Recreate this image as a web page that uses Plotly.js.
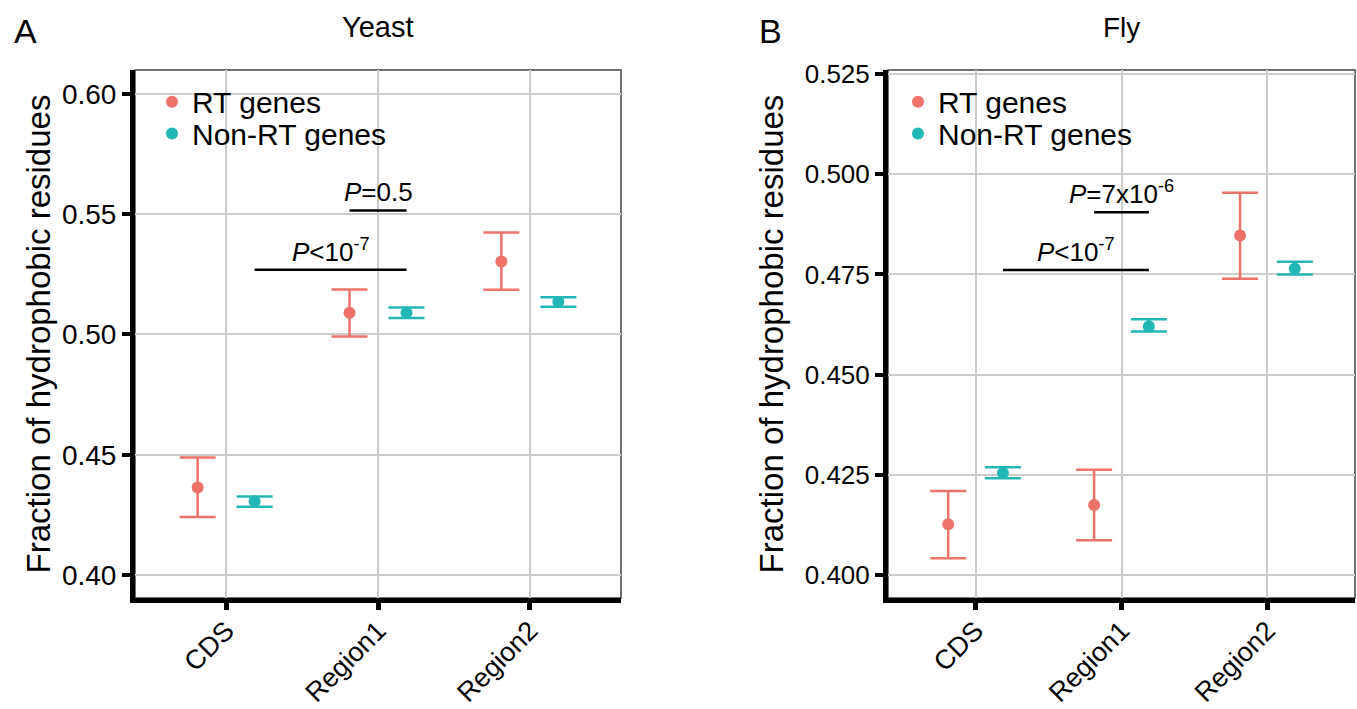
<!DOCTYPE html>
<html>
<head>
<meta charset="utf-8">
<script src="https://cdn.plot.ly/plotly-3.0.1.min.js"></script>
<style>html,body{margin:0;padding:0;background:#fff;}#chart{width:1357px;height:709px;}</style>
</head>
<body>
<div id="chart"></div>
<script>
// ---- data ----
const categories = ['CDS', 'Region1', 'Region2'];
const seriesNames = ['RT genes', 'Non-RT genes'];

const yeastRT      = [0.4364, 0.5090, 0.5304];
const yeastRTUp    = [0.4488, 0.5187, 0.5424];
const yeastRTLo    = [0.4241, 0.4992, 0.5186];
const yeastNon     = [0.4306, 0.5090, 0.5136];
const yeastNonUp   = [0.4326, 0.5112, 0.5155];
const yeastNonLo   = [0.4284, 0.5069, 0.5115];

const flyRT        = [0.4127, 0.4175, 0.4847];
const flyRTUp      = [0.4210, 0.4263, 0.4954];
const flyRTLo      = [0.4042, 0.4087, 0.4739];
const flyNon       = [0.4255, 0.4621, 0.4764];
const flyNonUp     = [0.4269, 0.4638, 0.4782];
const flyNonLo     = [0.4242, 0.4608, 0.4750];

const yeastTicks = [0.40, 0.45, 0.50, 0.55, 0.60];
const flyTicks   = [0.400, 0.425, 0.450, 0.475, 0.500, 0.525];

// significance brackets
const yeastSig = [
  {c0: 0, g0: 1, c1: 1, g1: 1, y: 0.5269, label: '<i>P</i>&lt;10<sup>-7</sup>'},
  {c0: 1, g0: 0, c1: 1, g1: 1, y: 0.5516, label: '<i>P</i>=0.5'}
];
const flySig = [
  {c0: 0, g0: 1, c1: 1, g1: 1, y: 0.4761, label: '<i>P</i>&lt;10<sup>-7</sup>'},
  {c0: 1, g0: 0, c1: 1, g1: 1, y: 0.4905, label: '<i>P</i>=7x10<sup>-6</sup>'}
];

// ---- styling ----
const COL_RT = '#EF736B';
const COL_NON = '#22B7B7';
const FONT = 'Liberation Sans, Arial, sans-serif';
const DODGE = 0.1875;
const groupOffset = g => (g === 0 ? -DODGE : DODGE);
const pos = (c, g) => c + 1 + groupOffset(g);

function makeTrace(vals, up, lo, g, xa, ya, legendName) {
  return {
    type: 'scatter', mode: 'markers',
    x: categories.map((_, i) => pos(i, g)),
    y: vals,
    name: seriesNames[g],
    xaxis: xa, yaxis: ya,
    legend: legendName,
    showlegend: true,
    marker: {color: g === 0 ? COL_RT : COL_NON, size: 12},
    error_y: {
      type: 'data', symmetric: false,
      array: vals.map((v, i) => up[i] - v),
      arrayminus: vals.map((v, i) => v - lo[i]),
      color: g === 0 ? COL_RT : COL_NON,
      thickness: 2.5, width: 18
    },
    hoverinfo: 'x+y'
  };
}

const traces = [
  makeTrace(yeastRT, yeastRTUp, yeastRTLo, 0, 'x', 'y', 'legend'),
  makeTrace(yeastNon, yeastNonUp, yeastNonLo, 1, 'x', 'y', 'legend3'),
  makeTrace(flyRT, flyRTUp, flyRTLo, 0, 'x2', 'y2', 'legend2'),
  makeTrace(flyNon, flyNonUp, flyNonLo, 1, 'x2', 'y2', 'legend4')
];

const shapes = [];
const annotations = [];
function addSig(list, xr, yr) {
  list.forEach(s => {
    shapes.push({type: 'line', xref: xr, yref: yr,
      x0: pos(s.c0, s.g0), x1: pos(s.c1, s.g1), y0: s.y, y1: s.y,
      line: {color: '#000', width: 2.5}});
    annotations.push({xref: xr, yref: yr,
      x: (pos(s.c0, s.g0) + pos(s.c1, s.g1)) / 2, y: s.y,
      xanchor: 'center', yanchor: 'bottom', yshift: 1,
      text: s.label, showarrow: false,
      font: {family: FONT, size: 26, color: '#000'}});
  });
}
addSig(yeastSig, 'x', 'y');
addSig(flySig, 'x2', 'y2');

// panel borders (thin)
['x', 'x2'].forEach((xa, k) => {
  shapes.push({type: 'rect', xref: xa + ' domain', yref: (k === 0 ? 'y' : 'y2') + ' domain',
    x0: 0, x1: 1, y0: 0, y1: 1, line: {color: '#444', width: 1.5}, layer: 'below'});
});

annotations.push(
  {xref: 'paper', yref: 'paper', x: 12 / 1357, y: 1 - 10 / 709, xanchor: 'left', yanchor: 'top',
   text: 'A', showarrow: false, font: {family: FONT, size: 34, color: '#000'}},
  {xref: 'paper', yref: 'paper', x: 757 / 1357, y: 1 - 10 / 709, xanchor: 'left', yanchor: 'top',
   text: 'B', showarrow: false, font: {family: FONT, size: 34, color: '#000'}},
  {xref: 'x domain', yref: 'paper', x: 0.5, y: 1 - 27 / 709, xanchor: 'center', yanchor: 'middle',
   text: 'Yeast', showarrow: false, font: {family: FONT, size: 29, color: '#000'}},
  {xref: 'x2 domain', yref: 'paper', x: 0.5, y: 1 - 27 / 709, xanchor: 'center', yanchor: 'middle',
   text: 'Fly', showarrow: false, font: {family: FONT, size: 28, color: '#000'}}
);

function xAxis(domain, anchor) {
  return {
    domain: domain, anchor: anchor,
    range: [0.4, 3.6], tickvals: [1, 2, 3], ticktext: categories,
    tickangle: -45, tickfont: {family: FONT, size: 27, color: '#000'},
    ticks: 'outside', ticklen: 7, tickwidth: 5, tickcolor: '#000',
    ticklabelstandoff: -6,
    showline: true, linewidth: 5, linecolor: '#000',
    showgrid: true, gridcolor: '#cccccc', gridwidth: 2,
    zeroline: false, fixedrange: true
  };
}
function yAxis(range, ticks, fmt, fs, anchor, standoff) {
  return {
    domain: [111 / 709, 639 / 709], anchor: anchor,
    range: range, tickvals: ticks, ticktext: ticks.map(t => t.toFixed(fmt)),
    tickfont: {family: FONT, size: fs, color: '#000'},
    ticks: 'outside', ticklen: 8, tickwidth: 4, tickcolor: '#000',
    showline: true, linewidth: 5, linecolor: '#000',
    showgrid: true, gridcolor: '#cccccc', gridwidth: 2,
    zeroline: false, fixedrange: true,
    title: {text: 'Fraction of hydrophobic residues', font: {family: FONT, size: 33, color: '#000'}, standoff: standoff}
  };
}

function legendAt(px, py) {
  return {x: px / 1357, y: 1 - py / 709, xanchor: 'left', yanchor: 'middle',
    bgcolor: 'rgba(0,0,0,0)', font: {family: FONT, size: 30, color: '#000'}};
}

const layout = {
  width: 1357, height: 709,
  margin: {l: 0, r: 0, t: 0, b: 0},
  paper_bgcolor: '#fff', plot_bgcolor: '#fff',
  font: {family: FONT, color: '#000'},
  xaxis: xAxis([135 / 1357, 621 / 1357], 'y'),
  yaxis: yAxis([0.3904, 0.61], yeastTicks, 2, 28, 'x', 3),
  xaxis2: xAxis([888 / 1357, 1355 / 1357], 'y2'),
  yaxis2: yAxis([0.3943, 0.526], flyTicks, 3, 26, 'x2', 13),
  legend: legendAt(152, 101.7),
  legend3: legendAt(152, 133.5),
  legend2: legendAt(898, 101.7),
  legend4: legendAt(898, 133.5),
  shapes: shapes,
  annotations: annotations,
  showlegend: true
};

Plotly.newPlot('chart', traces, layout, {staticPlot: true, displayModeBar: false});
</script>
</body>
</html>
